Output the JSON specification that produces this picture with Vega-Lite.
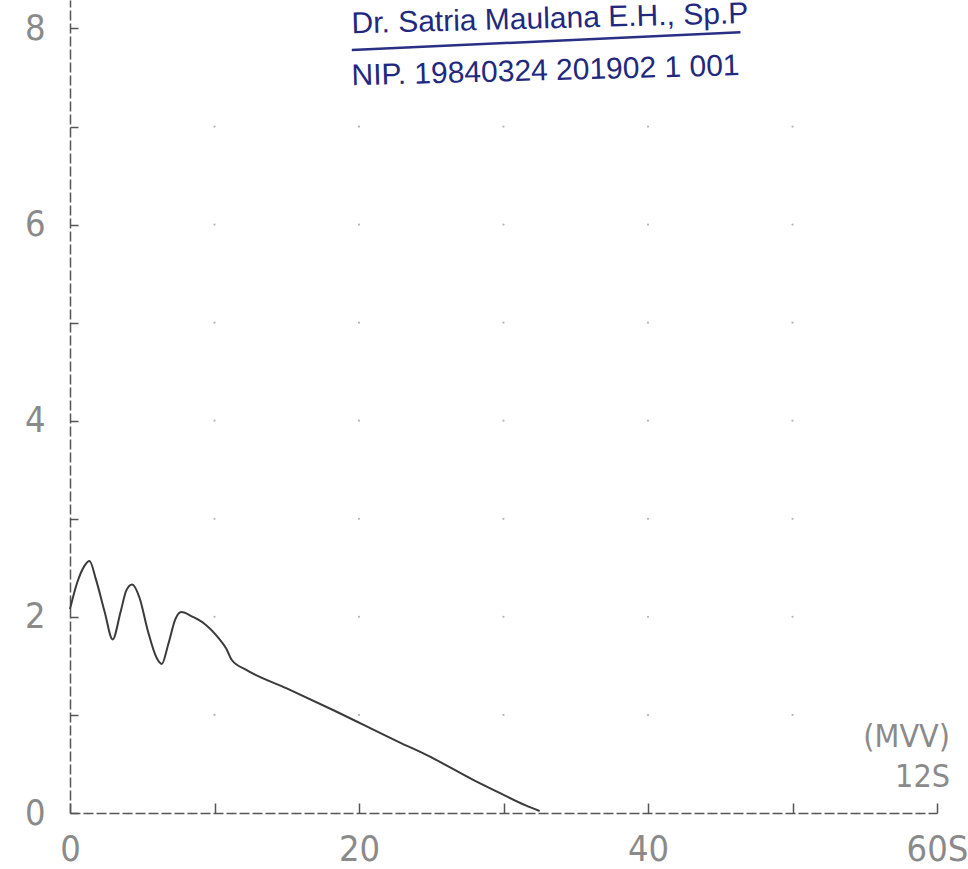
{
  "$schema": "https://vega.github.io/schema/vega-lite/v6.json",
  "width": 867,
  "height": 813,
  "autosize": {"type": "none"},
  "padding": {"left": 70, "top": 0, "right": 31, "bottom": 56},
  "background": "white",
  "config": {"view": {"stroke": null}},
  "datasets": {
    "curve": [
      {"t": 0, "v": 2.08}, {"t": 0.5, "v": 2.35}, {"t": 1.0, "v": 2.52}, {"t": 1.35, "v": 2.57},
      {"t": 1.8, "v": 2.38}, {"t": 2.4, "v": 2.05}, {"t": 2.95, "v": 1.77}, {"t": 3.5, "v": 2.05},
      {"t": 3.9, "v": 2.27}, {"t": 4.3, "v": 2.33}, {"t": 4.8, "v": 2.2}, {"t": 5.4, "v": 1.85},
      {"t": 6.0, "v": 1.58}, {"t": 6.35, "v": 1.52}, {"t": 6.8, "v": 1.72}, {"t": 7.3, "v": 1.98},
      {"t": 7.7, "v": 2.05}, {"t": 8.5, "v": 2.0}, {"t": 9.3, "v": 1.93}, {"t": 10.3, "v": 1.78},
      {"t": 10.8, "v": 1.68}, {"t": 11.2, "v": 1.56}, {"t": 12.2, "v": 1.46}, {"t": 15.0, "v": 1.27},
      {"t": 18.2, "v": 1.05}, {"t": 22.8, "v": 0.72}, {"t": 24.7, "v": 0.59}, {"t": 28.0, "v": 0.33},
      {"t": 29.8, "v": 0.2}, {"t": 31.5, "v": 0.08}, {"t": 32.5, "v": 0.02}
    ],
    "grid": [
      {"t": 10, "v": 1}, {"t": 10, "v": 2}, {"t": 10, "v": 3}, {"t": 10, "v": 4}, {"t": 10, "v": 5}, {"t": 10, "v": 6}, {"t": 10, "v": 7},
      {"t": 20, "v": 1}, {"t": 20, "v": 2}, {"t": 20, "v": 3}, {"t": 20, "v": 4}, {"t": 20, "v": 5}, {"t": 20, "v": 6}, {"t": 20, "v": 7},
      {"t": 30, "v": 1}, {"t": 30, "v": 2}, {"t": 30, "v": 3}, {"t": 30, "v": 4}, {"t": 30, "v": 5}, {"t": 30, "v": 6}, {"t": 30, "v": 7},
      {"t": 40, "v": 1}, {"t": 40, "v": 2}, {"t": 40, "v": 3}, {"t": 40, "v": 4}, {"t": 40, "v": 5}, {"t": 40, "v": 6}, {"t": 40, "v": 7},
      {"t": 50, "v": 1}, {"t": 50, "v": 2}, {"t": 50, "v": 3}, {"t": 50, "v": 4}, {"t": 50, "v": 5}, {"t": 50, "v": 6}, {"t": 50, "v": 7}
    ],
    "stamp": [
      {"t": 19.5, "v": 7.95, "label": "Dr. Satria Maulana E.H., Sp.P"},
      {"t": 19.5, "v": 7.42, "label": "NIP. 19840324 201902 1 001"}
    ],
    "stampline": [
      {"t": 19.5, "t2": 46.4, "v": 7.78, "v2": 7.96}
    ],
    "notes": [
      {"t": 60.9, "v": 0.67, "label": "(MVV)"},
      {"t": 60.9, "v": 0.265, "label": "12S"}
    ]
  },
  "layer": [
    {
      "data": {"name": "grid"},
      "mark": {"type": "point", "filled": true, "size": 5, "color": "#b5b5b5", "opacity": 1},
      "encoding": {
        "x": {"field": "t", "type": "quantitative", "scale": {"domain": [0, 60], "nice": false}, "axis": {
          "values": [0, 10, 20, 30, 40, 50, 60],
          "format": "d",
          "labelExpr": "datum.value == 60 ? '60S' : (datum.value % 20 == 0 ? datum.label : '')",
          "title": null, "grid": false,
          "tickSize": -10, "tickColor": "#555", "tickWidth": 1.5,
          "labelPadding": 29, "labelBaseline": "top", "labelFlush": false,
          "labelFont": "DejaVu Sans Condensed", "labelFontSize": 36, "labelFontWeight": "normal", "labelColor": "#8a8a8a",
          "domainColor": "#555", "domainWidth": 1.5, "domainDash": [10, 3]
        }},
        "y": {"field": "v", "type": "quantitative", "scale": {"domain": [0, 8.29], "nice": false}, "axis": {
          "values": [0, 1, 2, 3, 4, 5, 6, 7, 8],
          "format": "d",
          "labelExpr": "datum.value % 2 == 0 ? datum.label : ''",
          "title": null, "grid": false,
          "tickSize": -8, "tickColor": "#555", "tickWidth": 1.5,
          "labelPadding": 33, "labelBaseline": "middle",
          "labelFont": "DejaVu Sans Condensed", "labelFontSize": 36, "labelFontWeight": "normal", "labelColor": "#8a8a8a",
          "domainColor": "#555", "domainWidth": 1.5, "domainDash": [10, 3]
        }}
      }
    },
    {
      "data": {"name": "curve"},
      "mark": {"type": "line", "interpolate": "monotone", "color": "#3a3a3a", "strokeWidth": 2},
      "encoding": {
        "x": {"field": "t", "type": "quantitative"},
        "y": {"field": "v", "type": "quantitative"}
      }
    },
    {
      "data": {"name": "stampline"},
      "mark": {"type": "rule", "color": "#2a2f86", "strokeWidth": 2.5},
      "encoding": {
        "x": {"field": "t", "type": "quantitative"},
        "x2": {"field": "t2"},
        "y": {"field": "v", "type": "quantitative"},
        "y2": {"field": "v2"}
      }
    },
    {
      "data": {"name": "stamp"},
      "mark": {"type": "text", "align": "left", "baseline": "alphabetic", "font": "Liberation Sans", "fontSize": 30, "color": "#22287e", "angle": -1.5},
      "encoding": {
        "x": {"field": "t", "type": "quantitative"},
        "y": {"field": "v", "type": "quantitative"},
        "text": {"field": "label"}
      }
    },
    {
      "data": {"name": "notes"},
      "mark": {"type": "text", "align": "right", "baseline": "alphabetic", "font": "DejaVu Sans Condensed", "fontSize": 32, "color": "#8a8a8a"},
      "encoding": {
        "x": {"field": "t", "type": "quantitative"},
        "y": {"field": "v", "type": "quantitative"},
        "text": {"field": "label"}
      }
    }
  ]
}
